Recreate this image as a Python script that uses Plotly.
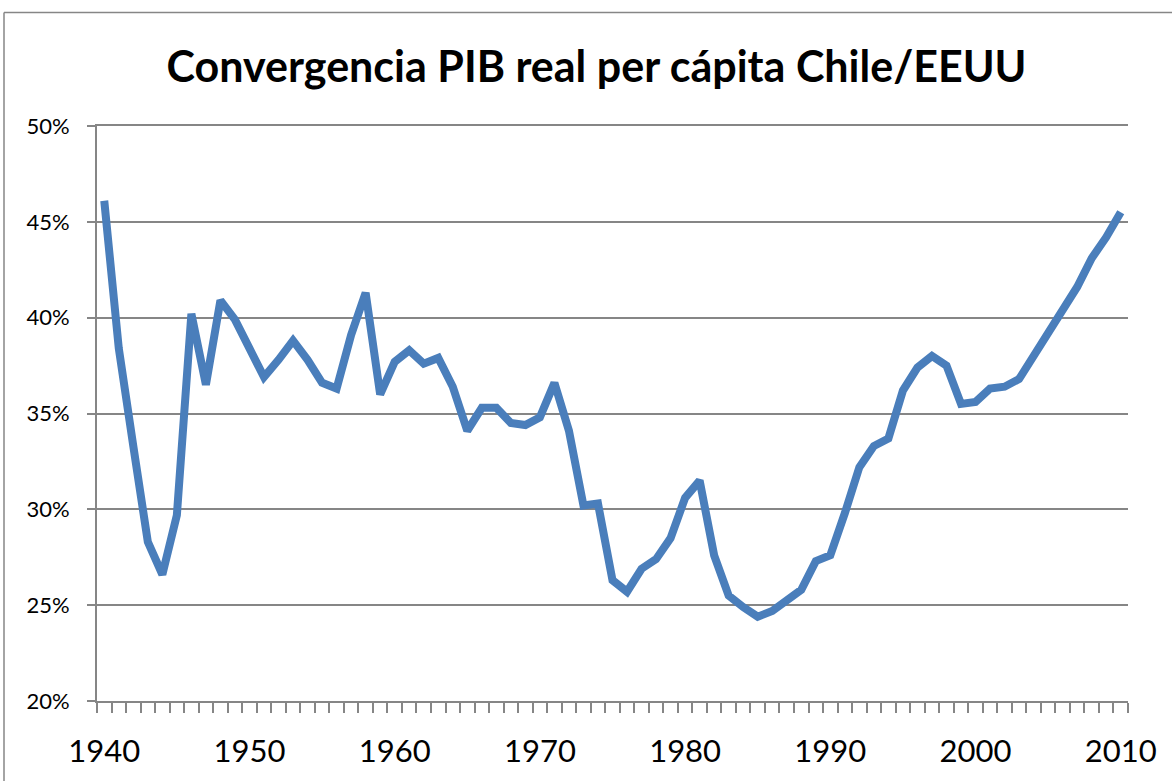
import plotly.graph_objects as go

years = [1940, 1941, 1942, 1943, 1944, 1945, 1946, 1947, 1948, 1949,
         1950, 1951, 1952, 1953, 1954, 1955, 1956, 1957, 1958, 1959,
         1960, 1961, 1962, 1963, 1964, 1965, 1966, 1967, 1968, 1969,
         1970, 1971, 1972, 1973, 1974, 1975, 1976, 1977, 1978, 1979,
         1980, 1981, 1982, 1983, 1984, 1985, 1986, 1987, 1988, 1989,
         1990, 1991, 1992, 1993, 1994, 1995, 1996, 1997, 1998, 1999,
         2000, 2001, 2002, 2003, 2004, 2005, 2006, 2007, 2008, 2009,
         2010]
ratio_pct = [46.1, 38.4, 33.3, 28.3, 26.6, 29.7, 40.2, 36.5, 40.9, 39.9,
             38.4, 36.9, 37.8, 38.8, 37.8, 36.6, 36.3, 39.1, 41.3, 36.0,
             37.7, 38.3, 37.6, 37.9, 36.4, 34.1, 35.3, 35.3, 34.5, 34.4,
             34.8, 36.6, 34.1, 30.2, 30.3, 26.3, 25.7, 26.9, 27.4, 28.5,
             30.6, 31.5, 27.6, 25.5, 24.9, 24.4, 24.7, 25.3, 25.8, 27.3,
             27.6, 29.8, 32.2, 33.3, 33.7, 36.2, 37.4, 38.0, 37.5, 35.5,
             35.6, 36.3, 36.4, 36.8, 38.0, 39.2, 40.4, 41.6, 43.1, 44.2,
             45.5]
x_tick_vals = [1940, 1950, 1960, 1970, 1980, 1990, 2000, 2010]
y_tick_vals = [20, 25, 30, 35, 40, 45, 50]
y_tick_text = ["20%", "25%", "30%", "35%", "40%", "45%", "50%"]
title_text = "Convergencia PIB real per cápita Chile/EEUU"

grid_col = "#868686"

fig = go.Figure()
fig.add_trace(go.Scatter(
    x=years, y=ratio_pct, mode="lines",
    line=dict(color="#4a7ebb", width=8, shape="linear"),
    hoverinfo="x+y", showlegend=False,
))

fig.update_layout(
    width=1172, height=781,
    margin=dict(l=97, r=44, t=126, b=77, pad=0),
    paper_bgcolor="white", plot_bgcolor="white",
    font=dict(family="Lato, Open Sans, sans-serif", color="black"),
    title=dict(text="<b>" + title_text + "</b>", x=0.509, xref="container",
               xanchor="center", y=0.914, yref="container", yanchor="middle",
               font=dict(size=43, family="Lato, Open Sans, sans-serif", color="black")),
    xaxis=dict(
        range=[1939.5, 2010.5], tickmode="array", tickvals=x_tick_vals,
        ticks="", showgrid=False, zeroline=False,
        showline=True, mirror=True, linecolor=grid_col, linewidth=2,
        tickfont=dict(size=31, color="black"), ticklabelstandoff=22,
        minor=dict(tick0=1939.5, dtick=1, ticks="outside", ticklen=10,
                   tickcolor=grid_col, tickwidth=1.5, showgrid=False),
    ),
    yaxis=dict(
        range=[20, 50], tickmode="array", tickvals=y_tick_vals, ticktext=y_tick_text,
        ticks="outside", ticklen=8, tickcolor=grid_col, tickwidth=1.5,
        showgrid=True, gridcolor=grid_col, gridwidth=1.5, zeroline=False,
        showline=True, linecolor=grid_col, linewidth=2,
        tickfont=dict(size=22, color="black"), ticklabelstandoff=13,
    ),
    shapes=[
        dict(type="line", xref="paper", yref="paper",
             x0=-0.0902, x1=1.05, y0=1.1972, y1=1.1972,
             line=dict(color=grid_col, width=1.5)),
        dict(type="line", xref="paper", yref="paper",
             x0=-0.0902, x1=-0.0902, y0=1.1972, y1=-0.14,
             line=dict(color=grid_col, width=1.5)),
    ],
)

fig.write_html("out.html", config={"displayModeBar": False},
               post_script="document.body.style.margin='0';document.body.style.overflow='hidden';")
